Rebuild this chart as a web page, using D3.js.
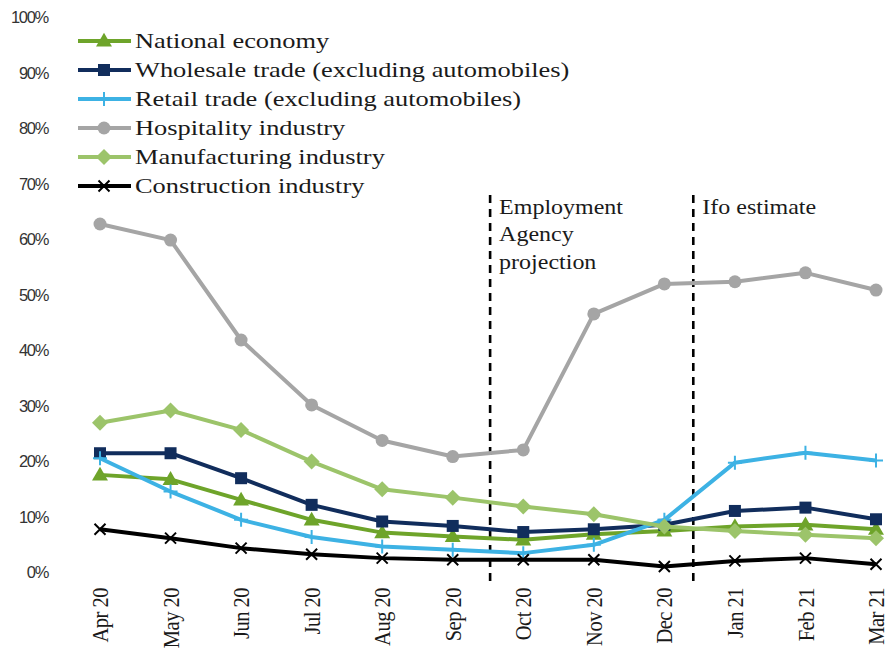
<!DOCTYPE html>
<html>
<head>
<meta charset="utf-8">
<script src="https://cdn.jsdelivr.net/npm/d3@7"></script>
<style>
  html, body { margin: 0; padding: 0; background: #fff; }
  svg { display: block; }
</style>
</head>
<body>
<svg id="chart" width="892" height="656"></svg>
<script>
// Months on the category axis
const months = ["Apr 20", "May 20", "Jun 20", "Jul 20", "Aug 20", "Sep 20",
                "Oct 20", "Nov 20", "Dec 20", "Jan 21", "Feb 21", "Mar 21"];

// Share of employees in short-time work, by sector (fractions)
const nationalEconomy = [0.175, 0.167, 0.130, 0.094, 0.071, 0.064, 0.058, 0.068, 0.074, 0.082, 0.085, 0.077];
const wholesaleTrade  = [0.214, 0.214, 0.169, 0.121, 0.091, 0.083, 0.072, 0.077, 0.085, 0.110, 0.116, 0.095];
const retailTrade     = [0.205, 0.145, 0.094, 0.063, 0.046, 0.040, 0.034, 0.049, 0.094, 0.197, 0.215, 0.201];
const hospitality     = [0.627, 0.598, 0.418, 0.301, 0.237, 0.208, 0.220, 0.465, 0.519, 0.523, 0.539, 0.508];
const manufacturing   = [0.269, 0.291, 0.256, 0.199, 0.149, 0.134, 0.118, 0.104, 0.082, 0.074, 0.067, 0.061];
const construction    = [0.077, 0.061, 0.043, 0.032, 0.025, 0.022, 0.022, 0.022, 0.010, 0.020, 0.025, 0.014];

const seriesNames = ["National economy", "Wholesale trade (excluding automobiles)",
                     "Retail trade (excluding automobiles)", "Hospitality industry",
                     "Manufacturing industry", "Construction industry"];

// Y-axis tick values
const yTicks = [0, 0.1, 0.2, 0.3, 0.4, 0.5, 0.6, 0.7, 0.8, 0.9, 1.0];

// Period boundaries (fractional month index) and their captions
const markerPositions = [5.53, 8.41];
const markerCaptions = [["Employment", "Agency", "projection"], ["Ifo estimate"]];

const series = [
  { name: seriesNames[0], values: nationalEconomy, color: "#6ea42a", shape: "triangle" },
  { name: seriesNames[1], values: wholesaleTrade,  color: "#112d5c", shape: "square" },
  { name: seriesNames[2], values: retailTrade,     color: "#3db2e4", shape: "plus" },
  { name: seriesNames[3], values: hospitality,     color: "#a5a5a5", shape: "circle" },
  { name: seriesNames[4], values: manufacturing,   color: "#9cc46a", shape: "diamond" },
  { name: seriesNames[5], values: construction,    color: "#000000", shape: "times" }
];

const serif = "'Liberation Serif', 'Times New Roman', serif";
const wide = 1.2; // horizontal widening of the serif captions

const svg = d3.select("#chart");

const x = d3.scalePoint().domain(months).range([100, 876]);
const y = d3.scaleLinear().domain([0, 1]).range([572, 17]);
const xIdx = d3.scaleLinear().domain([0, months.length - 1]).range([100, 876]);

// Y axis: labels only, no line or ticks
const yAxis = svg.append("g")
  .attr("transform", "translate(48,0)")
  .call(d3.axisLeft(y).tickValues(yTicks).tickFormat(d3.format(".0%")).tickSize(0).tickPadding(0));
yAxis.select(".domain").remove();
yAxis.selectAll("text")
  .attr("fill", "#333")
  .style("font-family", "'Liberation Sans', Arial, sans-serif")
  .style("font-size", "16.5px")
  .style("letter-spacing", "-1.3px")
  .attr("dy", "0.35em");

// X axis: rotated month labels, no line or ticks
const xAxis = svg.append("g")
  .attr("transform", "translate(0,588)")
  .call(d3.axisBottom(x).tickSize(0).tickPadding(0));
xAxis.select(".domain").remove();
xAxis.selectAll("text")
  .attr("fill", "#1a1a1a")
  .attr("transform", "rotate(-90) scale(1,1.12)")
  .attr("text-anchor", "end")
  .attr("x", 0)
  .attr("y", 0)
  .attr("dy", "0.33em")
  .style("font-family", serif)
  .style("font-size", "20.5px")
  .style("letter-spacing", "-0.5px");

// Dashed period boundaries with captions
markerPositions.forEach((p, i) => {
  const xp = xIdx(p);
  svg.append("line")
    .attr("x1", xp).attr("x2", xp)
    .attr("y1", 195).attr("y2", 584)
    .attr("stroke", "#000").attr("stroke-width", 2.6)
    .attr("stroke-dasharray", "8,6");
  const t = svg.append("text")
    .attr("transform", `translate(${xp + 9},214) scale(${wide},1)`)
    .attr("fill", "#1a1a1a")
    .style("font-family", serif)
    .style("font-size", "20px");
  markerCaptions[i].forEach((line, j) => {
    t.append("tspan").attr("x", 0).attr("dy", j === 0 ? 0 : 27.5).text(line);
  });
});

// Marker drawing helper
function drawMarker(g, shape, color, cx, cy) {
  if (shape === "circle") {
    g.append("circle").attr("cx", cx).attr("cy", cy).attr("r", 6.5).attr("fill", color);
  } else if (shape === "square") {
    g.append("rect").attr("x", cx - 6).attr("y", cy - 6).attr("width", 12).attr("height", 12).attr("fill", color);
  } else if (shape === "diamond") {
    g.append("path").attr("d", `M${cx},${cy - 8}L${cx + 8},${cy}L${cx},${cy + 8}L${cx - 8},${cy}Z`).attr("fill", color);
  } else if (shape === "triangle") {
    g.append("path").attr("d", d3.symbol(d3.symbolTriangle, 110)()).attr("transform", `translate(${cx},${cy + 1})`).attr("fill", color);
  } else if (shape === "plus") {
    g.append("path").attr("d", `M${cx - 7},${cy}H${cx + 7}M${cx},${cy - 7}V${cy + 7}`)
      .attr("stroke", color).attr("stroke-width", 2).attr("fill", "none");
  } else if (shape === "times") {
    g.append("path").attr("d", `M${cx - 5.5},${cy - 5.5}L${cx + 5.5},${cy + 5.5}M${cx - 5.5},${cy + 5.5}L${cx + 5.5},${cy - 5.5}`)
      .attr("stroke", color).attr("stroke-width", 2).attr("fill", "none");
  }
}

const line = d3.line().x((d, i) => x(months[i])).y(d => y(d));

// Series lines with markers, drawn in legend order
series.forEach(s => {
  const g = svg.append("g");
  g.append("path")
    .attr("d", line(s.values))
    .attr("fill", "none")
    .attr("stroke", s.color)
    .attr("stroke-width", 4)
    .attr("stroke-linejoin", "round");
  s.values.forEach((v, i) => drawMarker(g, s.shape, s.color, x(months[i]), y(v)));
});

// Legend
const legend = svg.append("g");
series.forEach((s, i) => {
  const ly = 41 + i * 29;
  const g = legend.append("g");
  g.append("line").attr("x1", 78).attr("x2", 131).attr("y1", ly).attr("y2", ly)
    .attr("stroke", s.color).attr("stroke-width", 4);
  drawMarker(g, s.shape, s.color, 104, ly);
  g.append("text")
    .attr("transform", `translate(135,${ly}) scale(${wide},1)`)
    .attr("dy", "0.33em")
    .attr("fill", "#1a1a1a")
    .style("font-family", serif)
    .style("font-size", "22px")
    .text(s.name);
});
</script>
</body>
</html>
